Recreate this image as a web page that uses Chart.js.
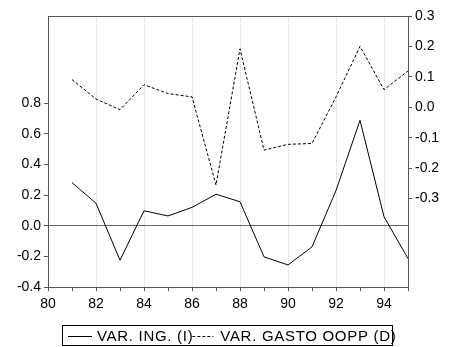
<!DOCTYPE html>
<html>
<head>
<meta charset="utf-8">
<script src="https://cdn.jsdelivr.net/npm/chart.js@4/dist/chart.umd.min.js"></script>
<style>
  html, body { margin: 0; padding: 0; background: #fff; }
  #wrap { width: 450px; height: 347px; }
</style>
</head>
<body>
<div id="wrap"><canvas id="chartLine" width="450" height="347"></canvas></div>
<script>
  // datos (años 81-95)
  const years = [81, 82, 83, 84, 85, 86, 87, 88, 89, 90, 91, 92, 93, 94, 95];
  const varIng = [0.282, 0.147, -0.225, 0.098, 0.064, 0.120, 0.206, 0.157, -0.203, -0.256, -0.138, 0.230, 0.689, 0.059, -0.214];
  const varGasto = [0.091, 0.027, -0.008, 0.074, 0.045, 0.034, -0.256, 0.192, -0.141, -0.122, -0.119, 0.034, 0.200, 0.058, 0.119];
  const leftTicks = [-0.4, -0.2, 0.0, 0.2, 0.4, 0.6, 0.8];
  const rightTicks = [-0.3, -0.2, -0.1, 0.0, 0.1, 0.2, 0.3];
  const labels = ['VAR. ING. (I)', 'VAR. GASTO OOPP (D)'];

  Chart.defaults.font.family = "'Liberation Sans', Arial, sans-serif";
  Chart.defaults.font.size = 14;
  Chart.defaults.color = '#000';

  const frame = '#555';
  const fmt = v => Math.abs(v) < 1e-9 ? '0.0' : v.toFixed(1);
  const keep = list => scale => {
    scale.ticks = scale.ticks.filter(t => list.some(v => Math.abs(v - t.value) < 1e-6));
  };

  // marco superior + leyenda con borde
  const boxPlugin = {
    id: 'boxPlugin',
    afterDraw(chart) {
      const ctx = chart.ctx;
      const a = chart.chartArea;
      ctx.save();
      ctx.strokeStyle = frame;
      ctx.lineWidth = 1;
      ctx.beginPath();
      ctx.moveTo(a.left, a.top + 0.5);
      ctx.lineTo(a.right, a.top + 0.5);
      ctx.stroke();

      // leyenda
      const y = 336;
      ctx.strokeStyle = '#000';
      ctx.strokeRect(62.5, 325.5, 330, 20);
      ctx.font = "15px 'Liberation Sans', Arial, sans-serif";
      ctx.letterSpacing = '0.7px';
      ctx.fillStyle = '#000';
      ctx.textBaseline = 'middle';
      let x = 68;
      chart.data.datasets.forEach((ds, i) => {
        const len = i === 0 ? 24 : 21;
        ctx.setLineDash(ds.borderDash || []);
        ctx.beginPath();
        ctx.moveTo(x, y + 0.5);
        ctx.lineTo(x + len, y + 0.5);
        ctx.stroke();
        ctx.setLineDash([]);
        x += len + (i === 0 ? 5 : 7);
        ctx.fillText(ds.label, x, y + 1);
        x += ctx.measureText(ds.label).width - 1;
      });
      ctx.restore();
    }
  };

  const ctxLine = document.getElementById('chartLine');
  new Chart(ctxLine, {
    type: 'line',
    data: {
      datasets: [
        {
          label: labels[0],
          data: years.map((yr, i) => ({ x: yr, y: varIng[i] })),
          yAxisID: 'y',
          borderColor: '#000',
          borderWidth: 1,
          pointRadius: 0,
          tension: 0
        },
        {
          label: labels[1],
          data: years.map((yr, i) => ({ x: yr, y: varGasto[i] })),
          yAxisID: 'y1',
          borderColor: '#000',
          borderWidth: 1,
          borderDash: [3, 2],
          pointRadius: 0,
          tension: 0
        }
      ]
    },
    options: {
      responsive: false,
      animation: false,
      layout: { padding: { top: 16, bottom: 30, left: 0, right: 0 } },
      plugins: {
        legend: { display: false },
        tooltip: { enabled: false }
      },
      scales: {
        x: {
          type: 'linear',
          min: 80,
          max: 95,
          afterFit: s => { s.height = 30; },
          ticks: {
            stepSize: 1,
            autoSkip: false,
            maxRotation: 0,
            padding: 5,
            callback: v => v % 2 === 0 ? String(v) : ''
          },
          grid: {
            color: c => (c.tick && c.tick.value % 2 === 0 && c.tick.value > 80 && c.tick.value < 95) ? '#d2d2d2' : 'transparent',
            tickColor: frame,
            tickLength: 4
          },
          border: { color: frame, dash: [1, 1] }
        },
        y: {
          position: 'left',
          min: -0.4,
          max: 1.37,
          afterFit: s => { s.width = 48; },
          afterBuildTicks: keep(leftTicks),
          ticks: { stepSize: 0.2, padding: 3, callback: fmt },
          grid: {
            color: c => (c.tick && Math.abs(c.tick.value) < 1e-9) ? '#666' : 'transparent',
            tickColor: frame,
            tickLength: 4
          },
          border: { color: frame }
        },
        y1: {
          position: 'right',
          min: -0.591,
          max: 0.3,
          afterFit: s => { s.width = 42; },
          afterBuildTicks: keep(rightTicks),
          ticks: { stepSize: 0.1, padding: 3, callback: fmt },
          grid: { drawOnChartArea: false, tickColor: frame, tickLength: 4 },
          border: { color: frame }
        }
      }
    },
    plugins: [boxPlugin]
  });
</script>
</body>
</html>
